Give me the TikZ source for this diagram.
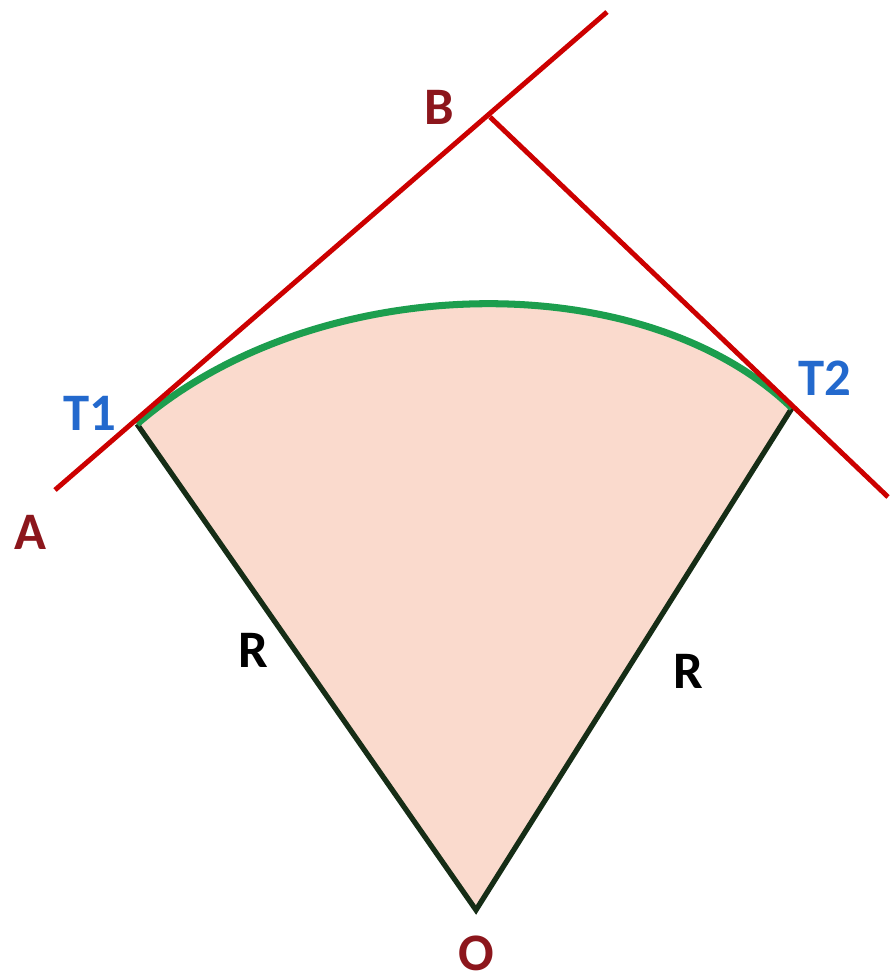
\documentclass[tikz,border=0pt]{standalone}
\usepackage{fontspec}
\setmainfont{Carlito}
\usepackage{tikz}
\usetikzlibrary{calc}
\colorlet{linered}{red!80!black}
\definecolor{labelred}{RGB}{140,22,28}
\definecolor{labelblue}{RGB}{35,105,205}
\definecolor{arcgreen}{RGB}{28,158,78}
\definecolor{radiusgreen}{RGB}{22,45,22}
\definecolor{sectorfill}{RGB}{250,218,205}
\tikzset{
  lbl/.style={font=\fontsize{15}{18}\selectfont\bfseries, inner sep=0pt},
  tangent/.style={draw=linered, line width=1.4pt},
  radius/.style={draw=radiusgreen, line width=1.5pt},
}

\begin{document}
\begin{tikzpicture}
    \useasboundingbox (0,0) rectangle (8.9,9.78);
    \coordinate (O) at (4.76, 0.68);
    \coordinate (T1) at (1.37, 5.54);
    \coordinate (T2) at (7.92, 5.70);
    \coordinate (B) at (4.90, 8.61);
    \coordinate (A) at (0.55, 4.88);
    \coordinate (Btop) at (6.07, 9.66);
    \coordinate (Bend) at (8.88, 4.81);

    \fill[sectorfill] (O) -- (T1) .. controls ($(T1)!0.5!(B)$) and ($(T2)!0.5!(B)$) .. (T2) -- cycle;
    \draw[radius] (T1) -- (O) -- (T2);
    \draw[arcgreen, line width=2pt] (T1) .. controls ($(T1)!0.5!(B)$) and ($(T2)!0.5!(B)$) .. (T2);

    \draw[tangent] (A) -- (Btop);
    \draw[tangent] (B) -- (Bend);

    \node[lbl, text=labelred] (labA) at (0.30, 4.46) {A};
    \node[lbl, text=labelred] (labB) at (4.39, 8.71) {B};
    \node[lbl, text=labelred] (labO) at (4.76, 0.25) {O};
    \node[lbl, text=labelblue] (labT1) at (0.90, 5.65) {T1};
    \node[lbl, text=labelblue] (labT2) at (8.25, 6.00) {T2};
    \node[lbl] (labR1) at (2.53, 3.28) {R};
    \node[lbl] (labR2) at (6.88, 3.07) {R};
  \end{tikzpicture}
\end{document}
